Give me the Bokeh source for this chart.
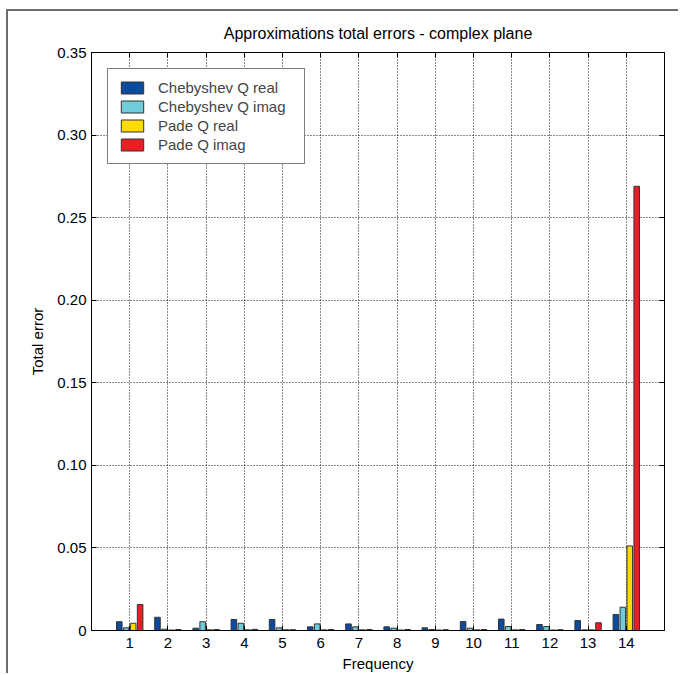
from bokeh.plotting import figure
from bokeh.models import (ColumnDataSource, FixedTicker, LinearAxis, Range1d,
                          CustomLabelingPolicy)
from bokeh.transform import dodge
from bokeh.embed import file_html
from bokeh.resources import INLINE

# ---------------- data ----------------
frequencies = list(range(1, 15))
cheb_real = [0.0053, 0.0080, 0.0014, 0.0067, 0.0067, 0.0022, 0.0040,
             0.0022, 0.0016, 0.0054, 0.0069, 0.0036, 0.0060, 0.0097]
cheb_imag = [0.0016, 0.0008, 0.0053, 0.0044, 0.0016, 0.0040, 0.0022,
             0.0014, 0.0006, 0.0014, 0.0024, 0.0024, 0.0004, 0.0141]
pade_real = [0.0044, 0.0003, 0.0004, 0.0004, 0.0005, 0.0004, 0.0004,
             0.0003, 0.0003, 0.0004, 0.0004, 0.0003, 0.0004, 0.0512]
pade_imag = [0.0157, 0.0006, 0.0006, 0.0007, 0.0005, 0.0006, 0.0006,
             0.0006, 0.0005, 0.0006, 0.0006, 0.0005, 0.0047, 0.2690]
series_names = ["Chebyshev Q real", "Chebyshev Q imag", "Pade Q real", "Pade Q imag"]
y_ticks = [0, 0.05, 0.10, 0.15, 0.20, 0.25, 0.30, 0.35]
y_tick_labels = ["0", "0.05", "0.10", "0.15", "0.20", "0.25", "0.30", "0.35"]
title_text = "Approximations total errors - complex plane"
x_label = "Frequency"
y_label = "Total error"

colors = ["#0a4a9f", "#6fcdd9", "#ffdc00", "#ee1d25"]
FONT = "Liberation Sans"

source = ColumnDataSource(dict(freq=frequencies, s0=cheb_real, s1=cheb_imag,
                               s2=pade_real, s3=pade_imag))

p = figure(width=672, height=664, x_range=Range1d(0, 15), y_range=Range1d(0, 0.35),
           output_backend="svg", toolbar_location=None, title=title_text,
           min_border_left=83, min_border_right=16, min_border_top=41,
           min_border_bottom=45)
# outer page frame (top and left edges, as in the scanned original)
p.margin = (9, 0, 0, 6)
p.styles = {"border-top": "2px solid #6e6e6e", "border-left": "2px solid #6e6e6e"}

p.title.align = "center"
p.title.text_font = FONT
p.title.text_font_size = "16px"
p.title.text_font_style = "normal"
p.title.text_color = "black"
p.title.standoff = 13

n = len(series_names)
group_width = min(0.8, n / (n + 1.5))
bar_width = group_width / n * 0.8
for i, name in enumerate(series_names):
    off = -group_width / 2 + (2 * i + 1) * group_width / (2 * n)
    p.vbar(x=dodge("freq", off, range=p.x_range), top="s%d" % i, bottom=0,
           width=bar_width, source=source, fill_color=colors[i],
           line_color="#333333", line_width=1, legend_label=name)

# axes
for ax in [p.xaxis[0], p.yaxis[0]]:
    ax.major_tick_in = 5
    ax.major_tick_out = 0
    ax.minor_tick_in = 0
    ax.minor_tick_out = 0
    ax.axis_line_color = "black"
    ax.major_tick_line_color = "black"
    ax.major_label_text_font = FONT
    ax.major_label_text_font_size = "15px"
    ax.major_label_text_color = "black"
    ax.axis_label_text_font = FONT
    ax.axis_label_text_font_size = "15px"
    ax.axis_label_text_font_style = "normal"
    ax.axis_label_text_color = "black"

p.xaxis.ticker = FixedTicker(ticks=frequencies)
p.xaxis.axis_label = x_label
p.xaxis.major_label_standoff = 7
p.xaxis.axis_label_standoff = 4

p.yaxis.ticker = FixedTicker(ticks=y_ticks)
p.yaxis.major_label_overrides = {t: l for t, l in zip(y_ticks, y_tick_labels)}
p.yaxis.axis_label = y_label
p.yaxis.major_label_standoff = 5
p.yaxis.axis_label_standoff = 8

# tick-only axes on top and right (labels suppressed by the labeling policy)
no_labels_code = "for (const i of Array.from(indices)) { indices.unset(i) }\nreturn indices"
top_axis = LinearAxis(ticker=FixedTicker(ticks=frequencies), major_tick_in=5,
                      major_tick_out=0, minor_tick_in=0, minor_tick_out=0,
                      major_label_text_font_size="1px", major_label_standoff=0,
                      major_label_policy=CustomLabelingPolicy(code=no_labels_code),
                      axis_line_color="black")
right_axis = LinearAxis(ticker=FixedTicker(ticks=y_ticks), major_tick_in=5,
                        major_tick_out=0, minor_tick_in=0, minor_tick_out=0,
                        major_label_text_font_size="1px", major_label_standoff=0,
                        major_label_policy=CustomLabelingPolicy(code=no_labels_code),
                        axis_line_color="black")
p.add_layout(top_axis, "above")
p.add_layout(right_axis, "right")

# grid
p.grid.grid_line_color = "#111111"
p.grid.grid_line_dash = "1 2"
p.grid.grid_line_width = 1
p.outline_line_color = "black"

# legend
p.legend.location = "top_left"
p.legend.margin = 16
p.legend.padding = 10
p.legend.spacing = 2
p.legend.glyph_width = 28
p.legend.glyph_height = 15
p.legend.label_height = 15
p.legend.label_width = 136
p.legend.label_standoff = 12
p.legend.label_text_font = FONT
p.legend.label_text_font_size = "15px"
p.legend.border_line_color = "black"
p.legend.border_line_width = 1
p.legend.background_fill_alpha = 1

open("out.html", "w").write(file_html(p, INLINE))
